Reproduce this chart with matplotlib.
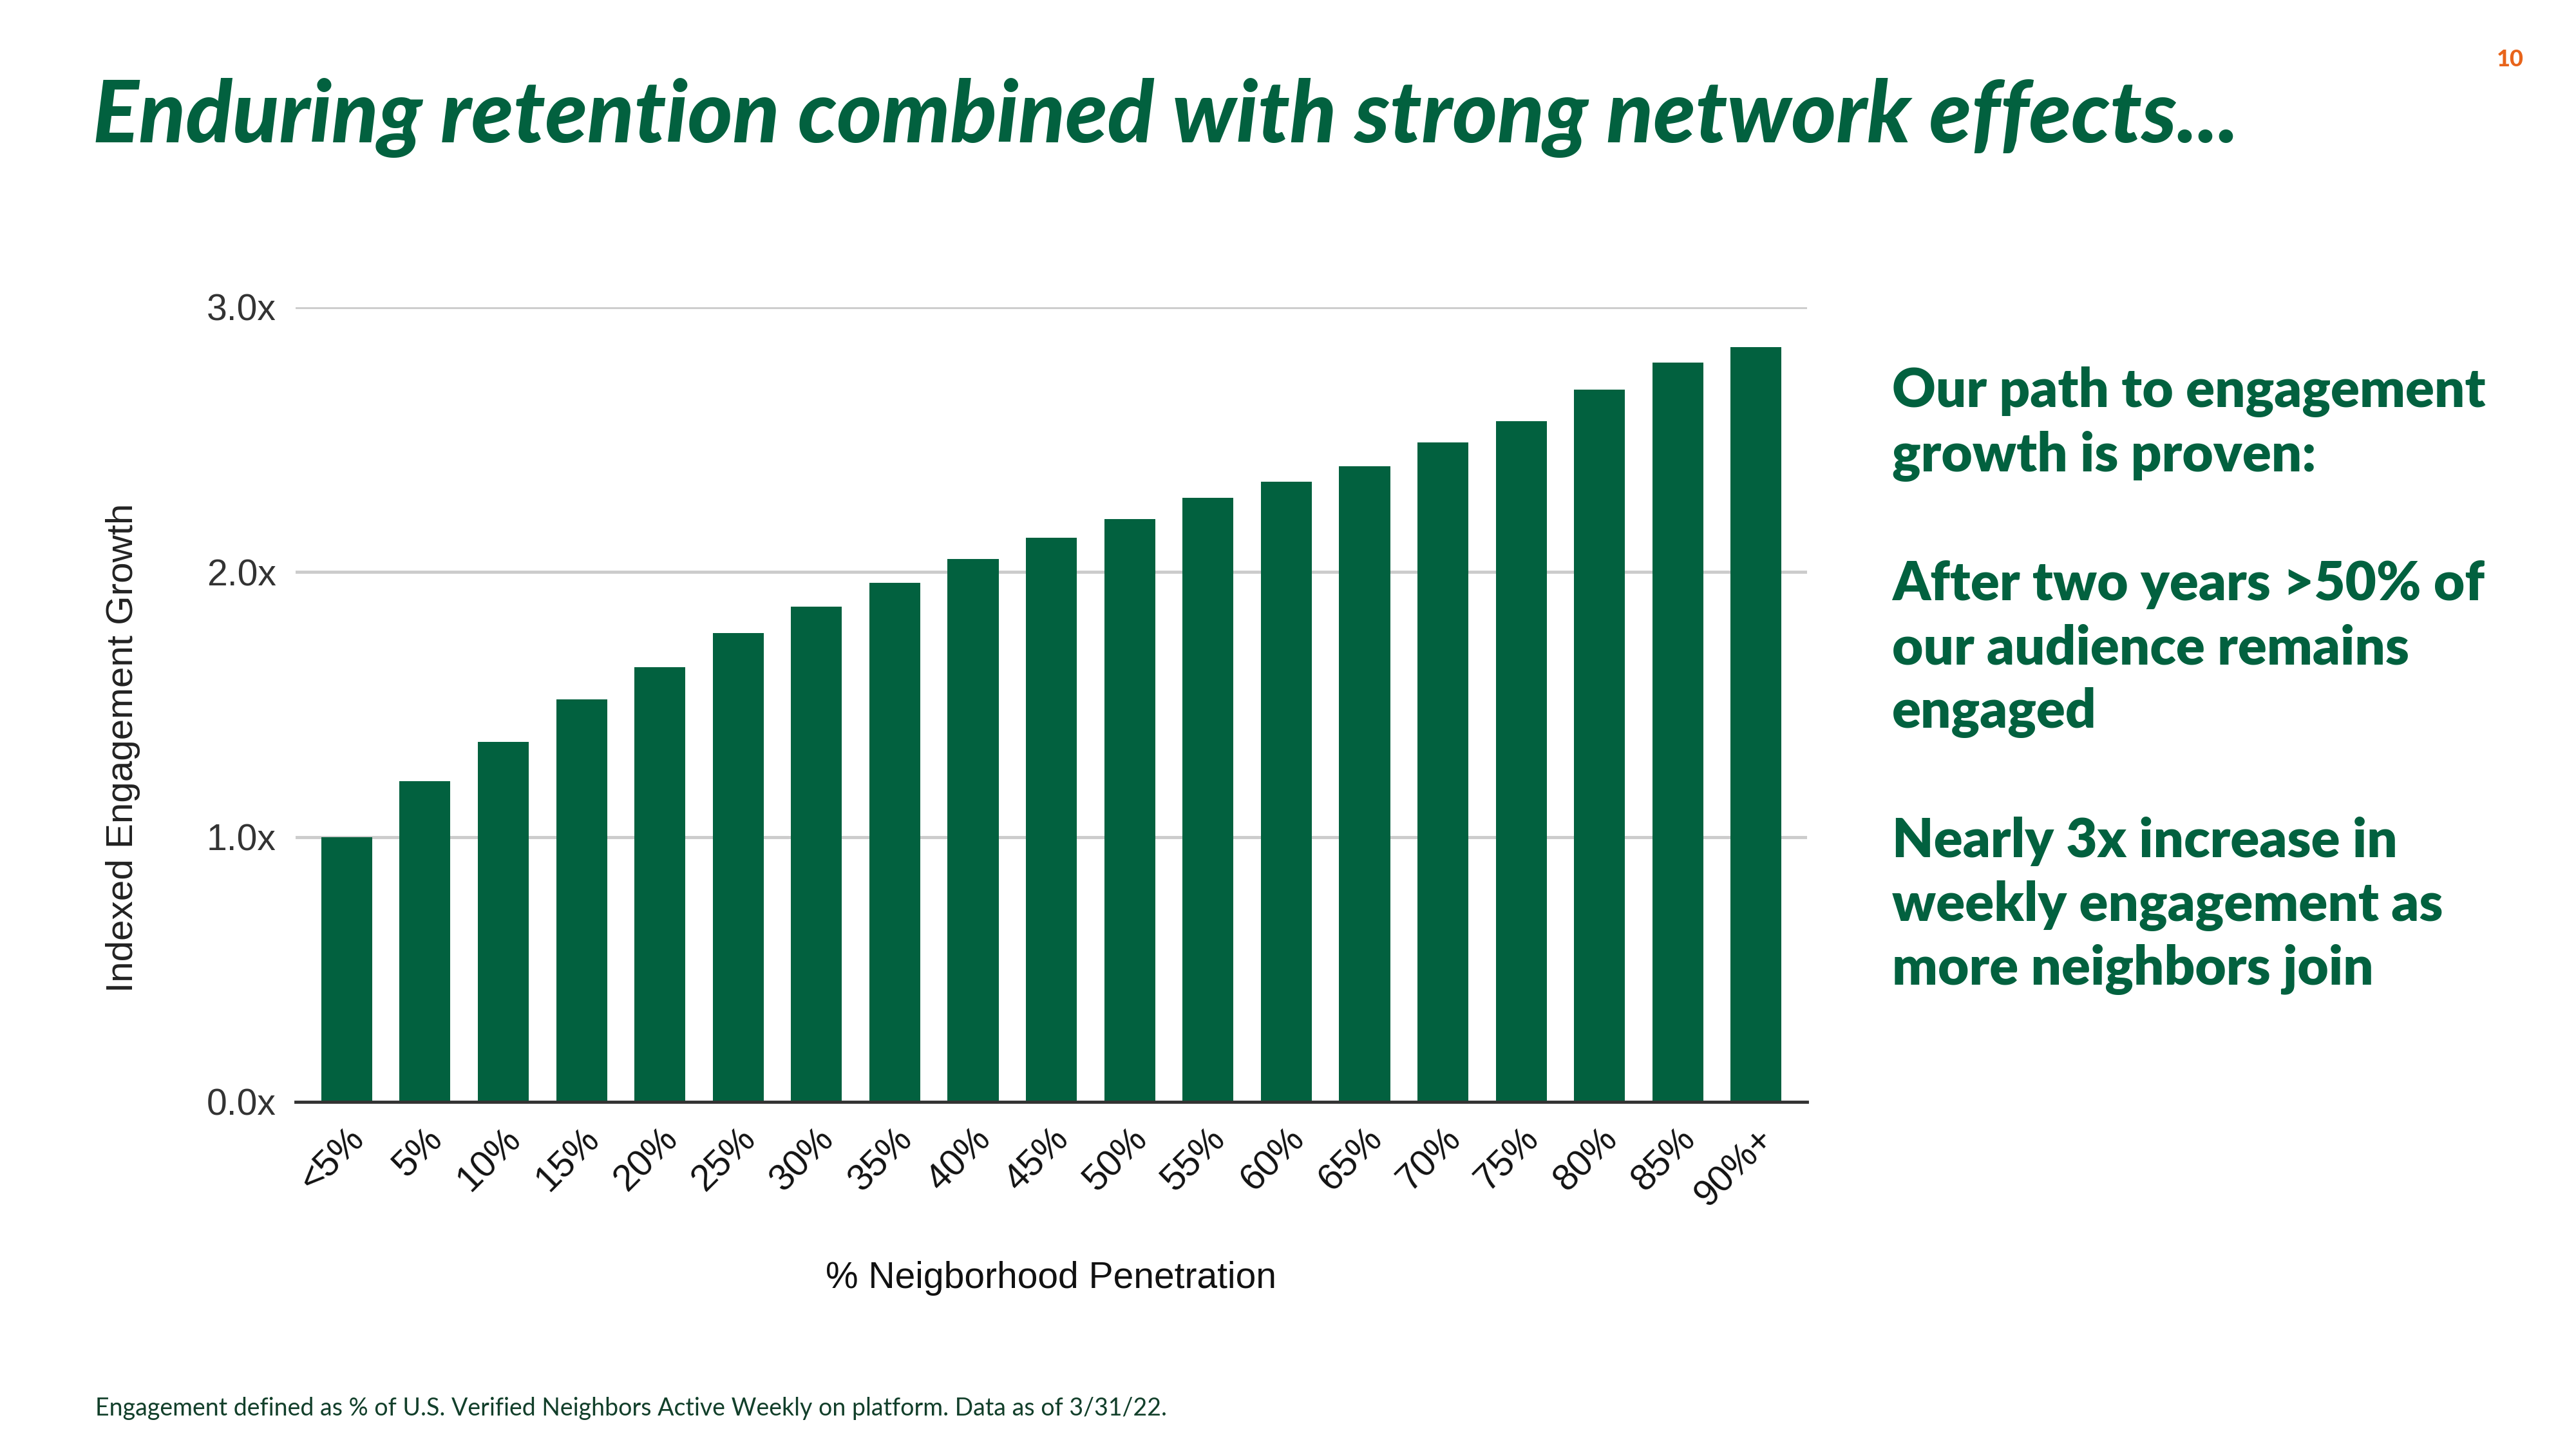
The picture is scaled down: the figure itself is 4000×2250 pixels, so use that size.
"""Indexed engagement growth by neighborhood penetration"""
import matplotlib.pyplot as plt

penetration = ["<5%", "5%", "10%", "15%", "20%", "25%", "30%", "35%", "40%", "45%",
               "50%", "55%", "60%", "65%", "70%", "75%", "80%", "85%", "90%+"]
growth = [1.00, 1.21, 1.36, 1.52, 1.64, 1.77, 1.87, 1.96, 2.05, 2.13,
          2.20, 2.28, 2.34, 2.40, 2.49, 2.57, 2.69, 2.79, 2.85]
y_ticks = [0, 1, 2, 3]
y_tick_labels = ["0.0x", "1.0x", "2.0x", "3.0x"]

GREEN = "#02613f"

fig = plt.figure(figsize=(40, 22.5), dpi=100)
fig.patch.set_facecolor("white")

ax = fig.add_axes([0.1148, 0.2396, 0.5867, 0.5484])
ax.bar(range(len(growth)), growth, width=0.65, color=GREEN, zorder=3)
ax.set_xlim(-0.65, len(growth) - 0.35)
ax.set_ylim(0, 3)
ax.set_yticks(y_ticks)
ax.set_yticklabels(y_tick_labels, fontsize=41, color="#333333", family="Liberation Sans")
ax.set_xticks(range(len(penetration)))
ax.set_xticklabels(penetration, fontsize=41, rotation=45, ha="right",
                   rotation_mode="anchor", family="Liberation Sans", color="#111111")
ax.tick_params(axis="both", length=0, pad=22)
ax.grid(axis="y", color="#cccccc", linewidth=3.5, zorder=0)
for side in ["top", "right", "left"]:
    ax.spines[side].set_visible(False)
ax.spines["bottom"].set_color("#333333")
ax.spines["bottom"].set_linewidth(3.5)
ax.spines["bottom"].set_zorder(4)

fig.text(0.0478, 0.484, "Indexed Engagement Growth", fontsize=42, family="Liberation Sans",
         color="#222222", rotation=90, ha="center", va="center")
fig.text(0.408, 0.118, "% Neigborhood Penetration", fontsize=41,
         family="Liberation Sans", color="#111111", ha="center", va="center")

# title and page number
fig.text(0.036, 0.9185, "Enduring retention combined with strong network effects...",
         fontsize=96, family="Lato", fontweight="black", style="italic",
         color=GREEN, ha="left", va="center")
fig.text(0.9745, 0.959, "10", fontsize=26, family="Lato", fontweight="black",
         color="#e8641b", ha="center", va="center")

# right-hand commentary
paragraphs = [
    ["Our path to engagement", "growth is proven:"],
    ["After two years >50% of", "our audience remains", "engaged"],
    ["Nearly 3x increase in", "weekly engagement as", "more neighbors join"],
]
y = 0.7295
for para in paragraphs:
    for line in para:
        fig.text(0.7345, y, line, fontsize=60, family="Lato", fontweight="heavy",
                 color=GREEN, ha="left", va="center")
        y -= 0.0443
    y -= 0.0443

fig.text(0.037, 0.028,
         "Engagement defined as % of U.S. Verified Neighbors Active Weekly on platform. Data as of 3/31/22.",
         fontsize=27, family="Lato", color="#123f2a", ha="left", va="center")

fig.savefig("out.png", dpi=100, facecolor="white")
